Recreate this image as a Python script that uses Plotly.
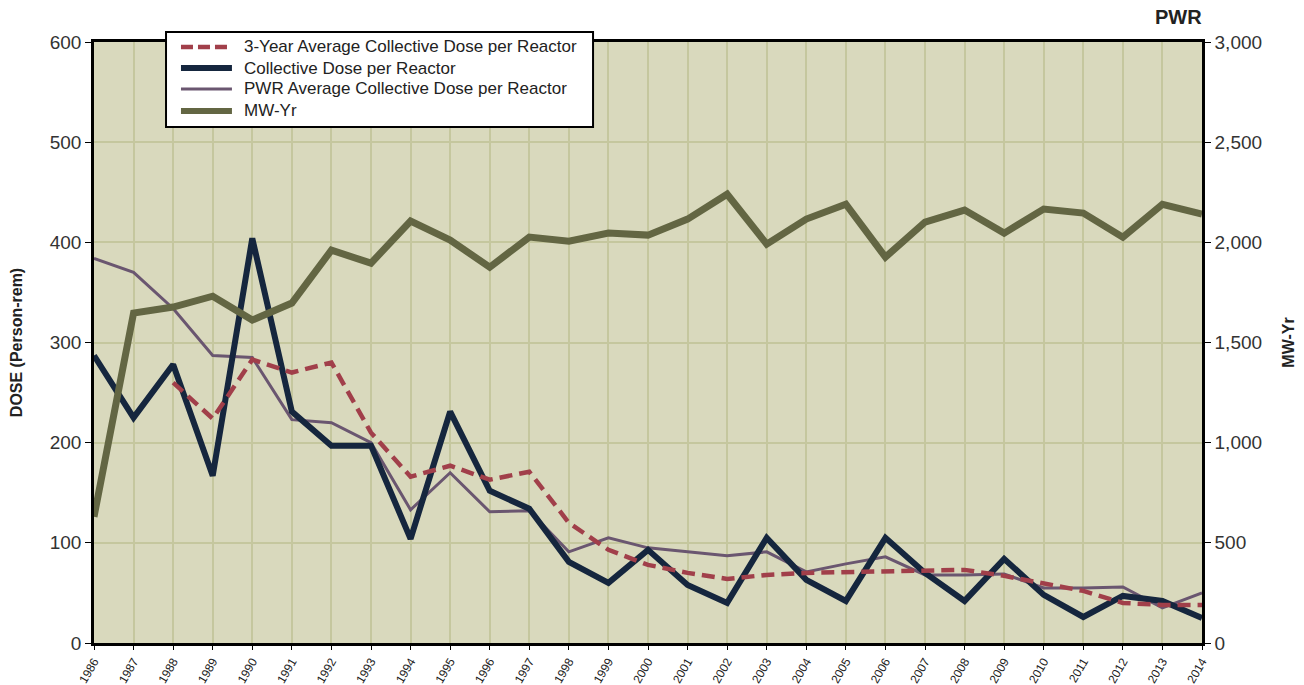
import plotly.graph_objects as go

years = list(range(1986, 2015))

collective_dose = [287, 225, 278, 167, 404, 231, 197, 197, 104, 231, 152, 134, 81, 60, 93,
                   58, 40, 105, 63, 42, 105, 70, 42, 84, 48, 26, 47, 42, 25]

three_year_avg = [None, None, 260, 224, 283, 270, 280, 210, 166, 177, 163, 171, 120, 93, 78,
                  70, 64, 68, 70, 71, 71, 73, 73, 67, 59, 52, 40, 38, 38]

pwr_avg = [384, 370, 334, 287, 285, 223, 220, 200, 133, 170, 131, 132, 91, 105, 95,
           91, 87, 91, 71, 79, 86, 68, 68, 69, 55, 55, 56, 35, 50]

mw_yr = [630, 1647, 1677, 1731, 1612, 1697, 1961, 1896, 2106, 2011, 1876, 2026, 2006, 2046, 2036,
         2116, 2240, 1991, 2116, 2190, 1926, 2101, 2161, 2046, 2166, 2146, 2026, 2190, 2141]

series_names = ["3-Year Average Collective Dose per Reactor", "Collective Dose per Reactor",
                "PWR Average Collective Dose per Reactor", "MW-Yr"]

RED, NAVY, PURPLE, OLIVE = "#a13f4a", "#15263e", "#6a5670", "#636643"
DASH = "13px,7px"
styles = [dict(color=RED, width=4.5, dash=DASH), dict(color=NAVY, width=6),
          dict(color=PURPLE, width=3), dict(color=OLIVE, width=7)]

fig = go.Figure()
fig.add_trace(go.Scatter(x=years, y=mw_yr, name=series_names[3], yaxis="y2", mode="lines",
                         line=styles[3], showlegend=False))
fig.add_trace(go.Scatter(x=years, y=pwr_avg, name=series_names[2], mode="lines",
                         line=styles[2], showlegend=False))
fig.add_trace(go.Scatter(x=years, y=collective_dose, name=series_names[1], mode="lines",
                         line=styles[1], showlegend=False))
fig.add_trace(go.Scatter(x=years, y=three_year_avg, name=series_names[0], mode="lines",
                         line=styles[0], showlegend=False))

# Manual legend (paper coordinates)
shapes = [dict(type="rect", xref="paper", yref="paper", x0=0.065, x1=0.4504, y0=0.8586, y1=1.0166,
               fillcolor="white", line=dict(color="black", width=2), layer="above")]
annotations = []
row_y = [0.9917, 0.9567, 0.9218, 0.8852]
for name, st, yy in zip(series_names, styles, row_y):
    ln = dict(color=st["color"], width=min(st["width"], 6))
    if "dash" in st:
        ln["dash"] = "12px,5px"
    shapes.append(dict(type="line", xref="paper", yref="paper", x0=0.0785, x1=0.1245,
                       y0=yy, y1=yy, line=ln, layer="above"))
    annotations.append(dict(text=name, xref="paper", yref="paper", x=0.1336, y=yy,
                            xanchor="left", yanchor="middle", showarrow=False,
                            font=dict(size=17, color="#222222")))

annotations.append(dict(text="<b>PWR</b>", x=1.0, y=1.0, xref="paper", yref="paper",
                        xanchor="right", yanchor="bottom", yshift=12, xshift=2, showarrow=False,
                        font=dict(size=20, color="#222222")))

fig.update_layout(
    width=1296, height=700,
    margin=dict(l=86, r=102, t=34, b=65),
    paper_bgcolor="white",
    plot_bgcolor="#d9d9bd",
    showlegend=False,
    font=dict(family="Liberation Sans, Arial, sans-serif", color="#222222"),
    xaxis=dict(
        range=[1986, 2014], tickmode="array", tickvals=years, ticktext=[str(y) for y in years],
        tickangle=-60, tickfont=dict(size=12, color="#222222"), automargin=False,
        showgrid=True, gridcolor="#c5c79e", gridwidth=1.5,
        showline=True, linecolor="black", linewidth=2.5, mirror=True,
        ticks="outside", ticklen=4, tickcolor="black", zeroline=False,
    ),
    yaxis=dict(
        range=[0, 600], tickvals=[0, 100, 200, 300, 400, 500, 600], automargin=False,
        tickfont=dict(size=19, color="#333333"),
        title=dict(text="<b>DOSE (Person-rem)</b>", font=dict(size=16, color="#222222"), standoff=24),
        showgrid=True, gridcolor="#c5c79e", gridwidth=1.5,
        showline=True, linecolor="black", linewidth=2.5,
        ticks="outside", ticklen=6, tickcolor="black", zeroline=False,
    ),
    yaxis2=dict(
        range=[0, 3000], tickvals=[0, 500, 1000, 1500, 2000, 2500, 3000], automargin=False,
        ticktext=["0", "500", "1,000", "1,500", "2,000", "2,500", "3,000"],
        overlaying="y", side="right",
        tickfont=dict(size=19, color="#333333"),
        title=dict(text="<b>MW-Yr</b>", font=dict(size=16, color="#222222"), standoff=22),
        showgrid=False,
        showline=True, linecolor="black", linewidth=2.5,
        ticks="outside", ticklen=6, tickcolor="black", zeroline=False,
    ),
    shapes=shapes,
    annotations=annotations,
)

fig.write_html("out.html")
